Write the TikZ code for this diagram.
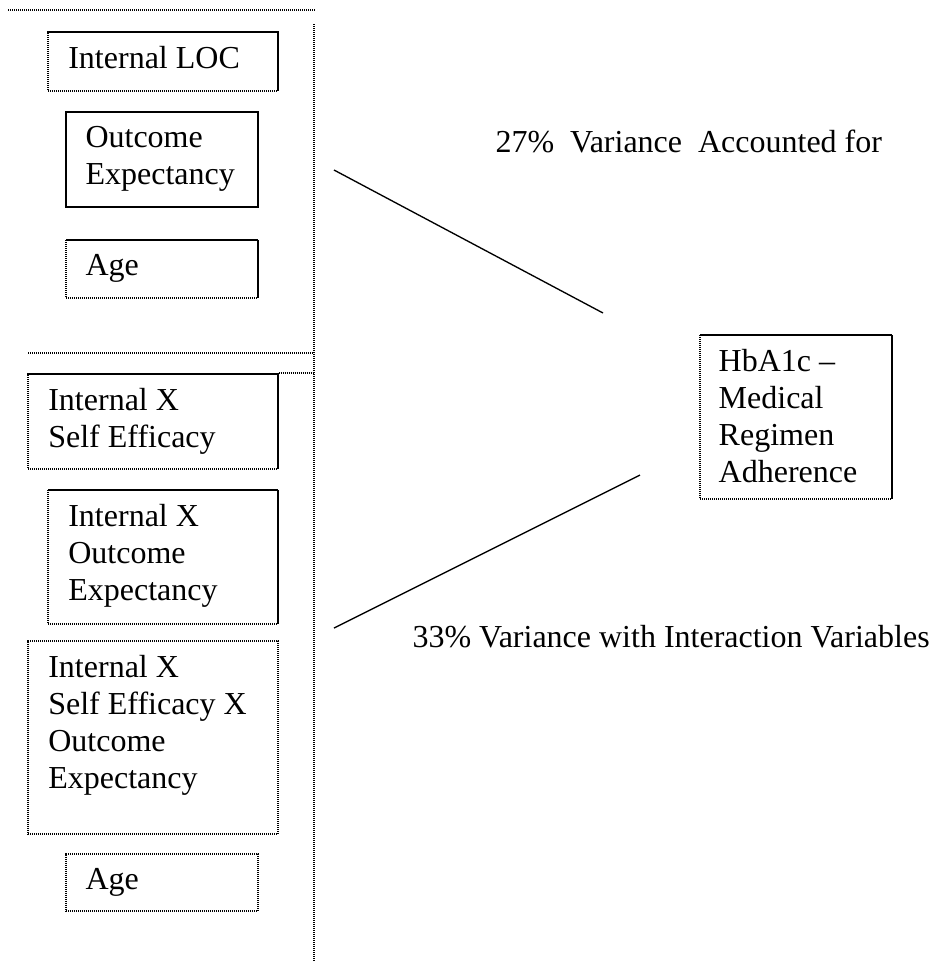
\documentclass[tikz,border=0pt]{standalone}
\usepackage{fontspec}
\setmainfont{Liberation Serif}
\begin{document}
\begin{tikzpicture}[x=0.375pt, y=-0.375pt,
    every node/.style={font=\fontsize{12}{13.8}\selectfont},
    b/.style={draw, dash pattern=on 0.5pt off 0.25pt, line width=0.6pt, anchor=north west, inner sep=0pt},
    t/.style={anchor=north west, inner sep=0pt, align=left},
    ln/.style={dash pattern=on 0.5pt off 0.25pt, line width=0.6pt}]
    \useasboundingbox (0,0) rectangle (935,966);

    % dividers
    \coordinate (top1) at (8,10);
    \coordinate (top2) at (315,10);
    \coordinate (v1) at (314,24);
    \coordinate (v2) at (314,962);
    \coordinate (mid1) at (28,353);
    \coordinate (mid2) at (314,353);
    \draw[ln] (top1) -- (top2);
    \draw[ln] (v1) -- (v2);
    \draw[ln] (mid1) -- (mid2);

    % first block
    \node[b, minimum width=86.25pt, minimum height=22.1pt] (loc) at (47,31) {};
    \node[b, solid, minimum width=72pt, minimum height=35.6pt] (oe) at (65,111) {};
    \node[b, minimum width=72pt, minimum height=21.75pt] (age) at (65,239) {};
    \node[t] (loct) at ([shift={(7.8pt,-5.7pt)}]loc.north west) {Internal LOC};
    \node[t] (oet) at ([shift={(7.5pt,-5.7pt)}]oe.north west) {Outcome\\Expectancy};
    \node[t] (aget) at ([shift={(7.5pt,-5.5pt)}]age.north west) {Age};

    % second block
    \node[b, minimum width=93.75pt, minimum height=35.6pt] (ise) at (27,373) {};
    \node[b, minimum width=86.25pt, minimum height=50.25pt] (ioe) at (47,489) {};
    \node[b, minimum width=93.75pt, minimum height=72.4pt] (iseoe) at (27,640) {};
    \node[b, minimum width=72pt, minimum height=21.4pt] (agetwo) at (65,853) {};
    \node[t] (iset) at ([shift={(7.8pt,-5.7pt)}]ise.north west) {Internal X\\Self Efficacy};
    \node[t] (ioet) at ([shift={(7.8pt,-5.7pt)}]ioe.north west) {Internal X\\Outcome\\Expectancy};
    \node[t] (iseoet) at ([shift={(7.8pt,-5.7pt)}]iseoe.north west) {Internal X\\Self Efficacy X\\Outcome\\Expectancy};
    \node[t] (agetwot) at ([shift={(7.5pt,-5.5pt)}]agetwo.north west) {Age};
    \draw[ln] (ise.north east) -- (ise.north east -| v1);

    % outcome
    \node[b, minimum width=72pt, minimum height=61.5pt] (hba) at (699,334) {};
    \node[t] (hbat) at ([shift={(7.2pt,-5.7pt)}]hba.north west) {HbA1c --\\Medical\\Regimen\\Adherence};

    % lines and labels
    \coordinate (a1) at (334,170);
    \coordinate (a2) at (603,313);
    \coordinate (c1) at (334,628);
    \coordinate (c2) at (640,475);
    \draw[line width=0.5pt] (a1) -- (a2);
    \draw[line width=0.5pt] (c1) -- (c2);
    \node[anchor=west, inner sep=0pt] (var1) at (495,141) {27\%\ \ Variance\ \ Accounted for};
    \node[anchor=west, inner sep=0pt] (var2) at (412,637) {33\%\ Variance with Interaction Variables};
\end{tikzpicture}
\end{document}
